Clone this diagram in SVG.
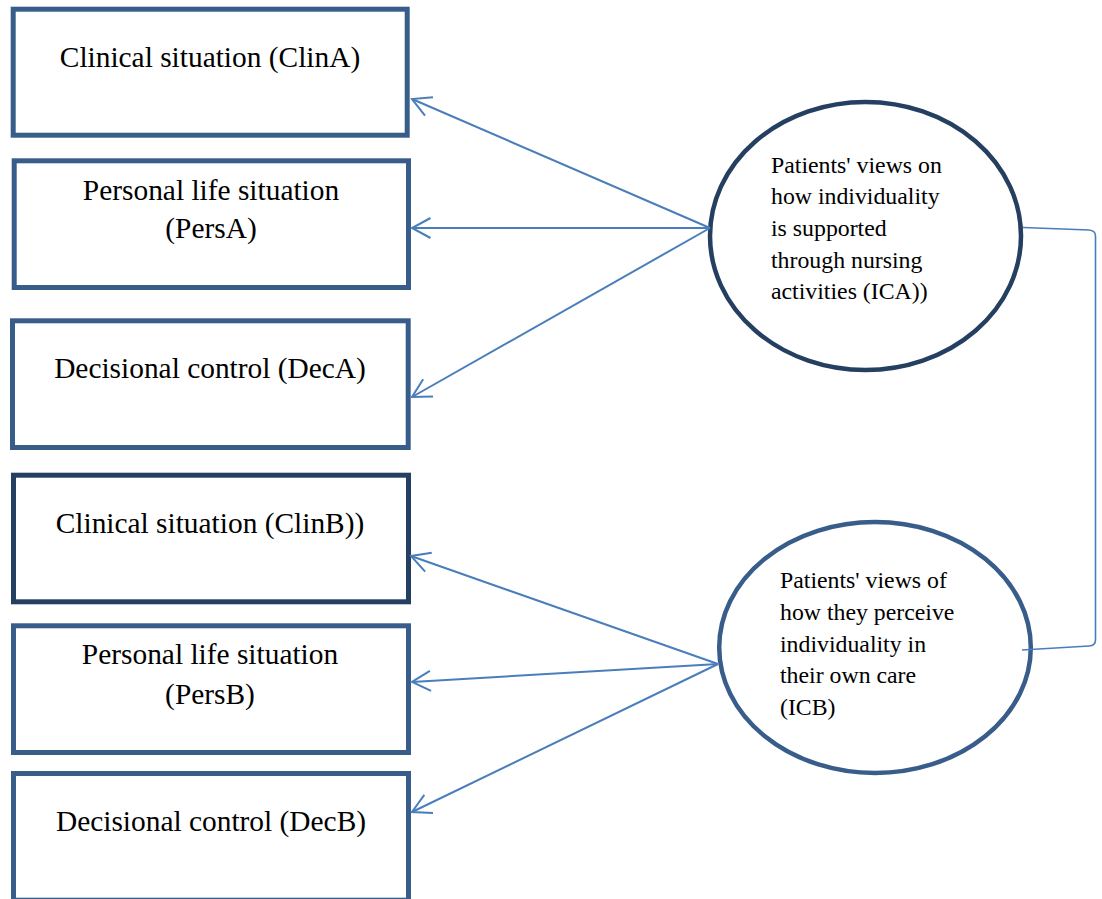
<svg xmlns="http://www.w3.org/2000/svg" width="1102" height="899" viewBox="0 0 1102 899">
<defs>
<style>
.box{fill:#fff;stroke:#385D8A;stroke-width:5}
.dark{stroke:#243F60}
.ell{fill:#fff;stroke-width:4.5}
.bt{font-family:"Liberation Serif","Times New Roman",serif;font-size:29.4px;fill:#000;text-anchor:middle}
.et{font-family:"Liberation Serif","Times New Roman",serif;font-size:23.8px;fill:#000}
.conn{fill:none;stroke:#4A7EBB;stroke-width:2}
.brk{fill:none;stroke:#4A7EBB;stroke-width:1.6}
</style>
<marker id="arr" markerUnits="userSpaceOnUse" markerWidth="30" markerHeight="30" viewBox="-25 -15 30 30" refX="0" refY="0" orient="auto">
<path d="M-18.5,-10 L0,0 L-18.5,10" fill="none" stroke="#4A7EBB" stroke-width="2"/>
</marker>
</defs>
<rect width="1102" height="899" fill="#fff"/>

<g id="clinA">
<rect class="box" x="13.2" y="9.2" width="394" height="126"/>
<text class="bt" x="210" y="67">Clinical situation (ClinA)</text>
</g>
<g id="persA">
<rect class="box" x="14.2" y="160.8" width="394.3" height="126.7"/>
<text class="bt" x="211" y="200">Personal life situation</text>
<text class="bt" x="211" y="238">(PersA)</text>
</g>
<g id="decA">
<rect class="box" x="12.5" y="320.8" width="395.7" height="126.7"/>
<text class="bt" x="210" y="378">Decisional control (DecA)</text>
</g>
<g id="clinB">
<rect class="box dark" x="13.5" y="475.2" width="395" height="126.6"/>
<text class="bt" x="210" y="533">Clinical situation (ClinB))</text>
</g>
<g id="persB">
<rect class="box" x="13.5" y="625.8" width="395" height="126.7"/>
<text class="bt" x="210" y="664">Personal life situation</text>
<text class="bt" x="210" y="704">(PersB)</text>
</g>
<g id="decB">
<rect class="box" x="13.5" y="773.5" width="395" height="126.7"/>
<text class="bt" x="211" y="831">Decisional control (DecB)</text>
</g>

<g id="ICA">
<ellipse class="ell" cx="865.5" cy="236" rx="155.5" ry="134" stroke="#243F60"/>
<text class="et" x="771" y="172.7">Patients' views on</text>
<text class="et" x="771" y="204.3">how individuality</text>
<text class="et" x="771" y="236">is supported</text>
<text class="et" x="771" y="267.5">through nursing</text>
<text class="et" x="771" y="299.2">activities (ICA))</text>
</g>
<g id="ICB">
<ellipse class="ell" cx="875" cy="647.5" rx="155.8" ry="125.5" stroke="#385D8A"/>
<text class="et" x="780" y="588">Patients' views of</text>
<text class="et" x="780" y="620">how they perceive</text>
<text class="et" x="780" y="651.5">individuality in</text>
<text class="et" x="780" y="683">their own care</text>
<text class="et" x="780" y="714.5">(ICB)</text>
</g>

<g id="connectors">
<line class="conn" x1="710" y1="228" x2="412" y2="99" marker-end="url(#arr)"/>
<line class="conn" x1="710" y1="228" x2="412" y2="228" marker-end="url(#arr)"/>
<line class="conn" x1="710" y1="228" x2="412" y2="397" marker-end="url(#arr)"/>
<line class="conn" x1="718" y1="664" x2="411" y2="556" marker-end="url(#arr)"/>
<line class="conn" x1="718" y1="664" x2="412" y2="682" marker-end="url(#arr)"/>
<line class="conn" x1="718" y1="664" x2="412" y2="812" marker-end="url(#arr)"/>
<path class="brk" d="M1023,227.5 L1089,230 Q1095.5,230.5 1095.5,236 L1095.5,640 Q1095.5,645.5 1089,646 L1022,650"/>
</g>
</svg>
